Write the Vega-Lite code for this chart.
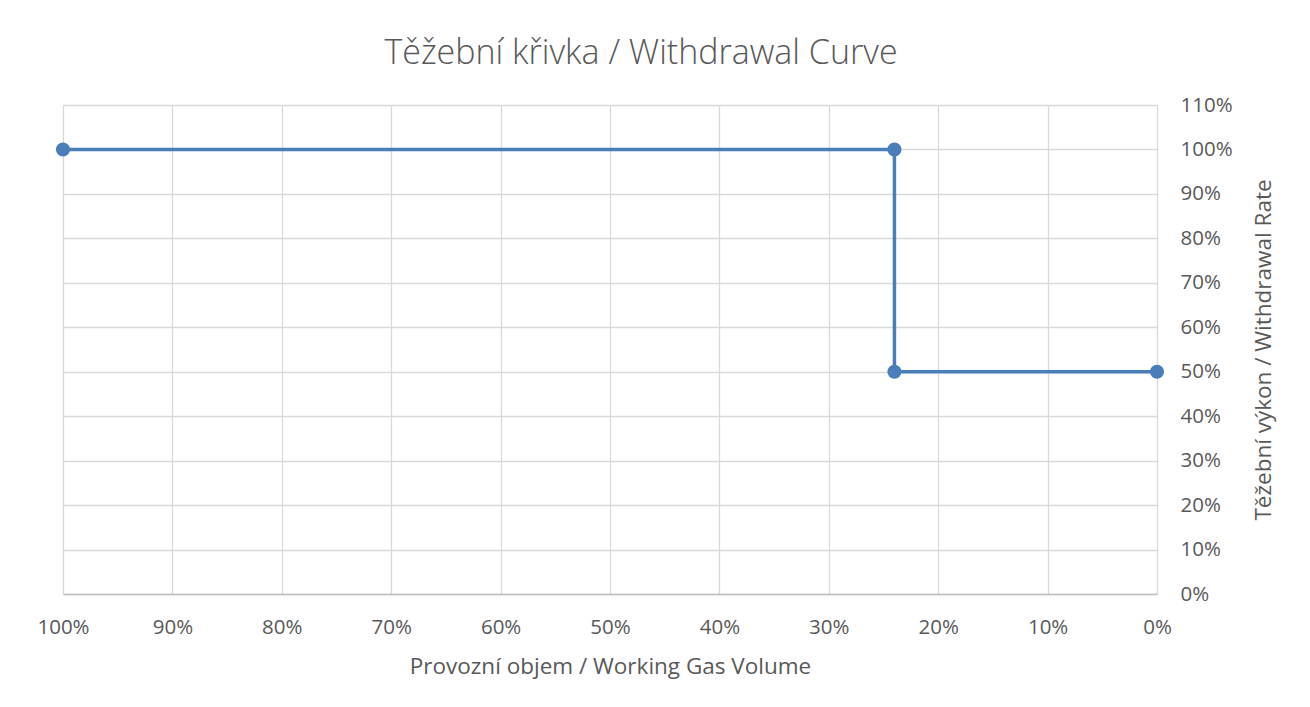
{
  "$schema": "https://vega.github.io/schema/vega-lite/v6.json",
  "width": 1094,
  "height": 489,
  "autosize": "none",
  "padding": {"left": 63, "top": 105, "right": 153, "bottom": 113},
  "background": "white",
  "title": {
    "text": "Těžební křivka / Withdrawal Curve",
    "font": "Open Sans",
    "fontSize": 34,
    "fontWeight": 300,
    "color": "#595959",
    "anchor": "middle",
    "dx": 31,
    "baseline": "alphabetic",
    "offset": -3
  },
  "config": {
    "view": {"stroke": null},
    "font": "Open Sans"
  },
  "data": {
    "values": [
      {"order": 1, "volume": 1.0, "rate": 1.0},
      {"order": 2, "volume": 0.24, "rate": 1.0},
      {"order": 3, "volume": 0.24, "rate": 0.5},
      {"order": 4, "volume": 0.0, "rate": 0.5}
    ]
  },
  "mark": {"type": "line", "color": "#4A7EBB", "strokeWidth": 3.5, "point": {"filled": true, "size": 200, "color": "#4A7EBB", "opacity": 1}},
  "encoding": {
    "order": {"field": "order", "type": "quantitative"},
    "x": {
      "field": "volume",
      "type": "quantitative",
      "scale": {"domain": [0, 1], "reverse": true, "nice": false, "zero": false},
      "axis": {
        "title": "Provozní objem / Working Gas Volume",
        "values": [0, 0.1, 0.2, 0.3, 0.4, 0.5, 0.6, 0.7, 0.8, 0.9, 1],
        "format": ".0%",
        "grid": true,
        "gridColor": "#D9D9D9",
        "gridWidth": 1.3,
        "domainColor": "#BFBFBF",
        "domainWidth": 1.3,
        "ticks": false,
        "tickSize": 0,
        "labelPadding": 23,
        "labelFont": "Open Sans",
        "labelFontSize": 20.5,
        "labelColor": "#595959",
        "labelFlush": false,
        "labelOverlap": false,
        "titleFont": "Open Sans",
        "titleFontSize": 22.5,
        "titleFontWeight": "normal",
        "titleColor": "#595959",
        "titleBaseline": "alphabetic",
        "titleY": 79
      }
    },
    "y": {
      "field": "rate",
      "type": "quantitative",
      "scale": {"domain": [0, 1.1], "nice": false},
      "axis": {
        "orient": "right",
        "title": "Těžební výkon / Withdrawal Rate",
        "values": [0, 0.1, 0.2, 0.3, 0.4, 0.5, 0.6, 0.7, 0.8, 0.9, 1.0, 1.1],
        "format": ".0%",
        "grid": true,
        "gridColor": "#D9D9D9",
        "gridWidth": 1.3,
        "domain": false,
        "ticks": false,
        "tickSize": 0,
        "labelPadding": 23,
        "labelFont": "Open Sans",
        "labelFontSize": 20.5,
        "labelColor": "#595959",
        "labelFlush": false,
        "labelOverlap": false,
        "titleFont": "Open Sans",
        "titleFontSize": 22.5,
        "titleFontWeight": "normal",
        "titleColor": "#595959",
        "titleAngle": 270,
        "titleBaseline": "alphabetic",
        "titleAlign": "center",
        "titleX": 113,
        "titleY": 244.5
      }
    }
  }
}
